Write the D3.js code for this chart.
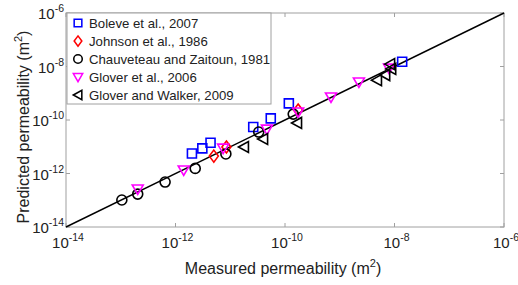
<!DOCTYPE html>
<html>
<head>
<meta charset="utf-8">
<style>
  body { margin: 0; background: white; }
  svg text { font-family: "Liberation Sans", Arial, sans-serif; fill: #222; }
</style>
<script src="https://cdn.jsdelivr.net/npm/d3@7"></script>
</head>
<body>
<div id="chart"></div>
<script>
  // log10 values: [measured, predicted]
  var boleve = [[-11.70, -11.25], [-11.51, -11.06], [-11.36, -10.85], [-10.58, -10.26],
                [-10.26, -9.94], [-9.93, -9.38], [-7.86, -7.82]];
  var johnson = [[-11.30, -11.35], [-11.07, -11.01], [-9.76, -9.63]];
  var chauveteau = [[-12.98, -12.99], [-12.69, -12.77], [-12.19, -12.32], [-11.64, -11.81],
                    [-11.08, -11.27], [-10.48, -10.45], [-9.85, -9.78]];
  var glover2006 = [[-12.69, -12.58], [-11.85, -11.87], [-11.13, -11.05], [-10.33, -10.34],
                    [-9.76, -9.70], [-9.16, -9.14], [-8.65, -8.58], [-8.10, -8.06]];
  var gloverWalker = [[-10.75, -11.01], [-10.40, -10.71], [-9.78, -10.11], [-8.32, -8.51],
                      [-8.17, -8.32], [-8.06, -8.09], [-8.08, -7.91]];
  var tickExps = [-14, -12, -10, -8, -6];
  var seriesNames = ['Boleve et al., 2007', 'Johnson et al., 1986', 'Chauveteau and Zaitoun, 1981',
                     'Glover et al., 2006', 'Glover and Walker, 2009'];

  var W = 518, H = 285;
  var pL = 66, pR = 504, pT = 13, pB = 227;

  var svg = d3.select('#chart').append('svg')
      .attr('width', W).attr('height', H);

  var x = d3.scaleLog().domain([1e-14, 1e-6]).range([pL, pR]);
  var y = d3.scaleLog().domain([1e-14, 1e-6]).range([pB, pT]);

  // frame
  svg.append('rect')
      .attr('x', pL).attr('y', pT)
      .attr('width', pR - pL).attr('height', pB - pT)
      .style('fill', 'white').style('stroke', '#a0a0a0').style('stroke-width', 1);

  var tickVals = tickExps.map(function(e) { return Math.pow(10, e); });

  // ticks inside the box
  var g = svg.append('g').style('stroke', '#a0a0a0').style('stroke-width', 1);
  tickVals.forEach(function(v) {
    g.append('line').attr('x1', x(v)).attr('x2', x(v)).attr('y1', pB).attr('y2', pB - 4);
    g.append('line').attr('x1', x(v)).attr('x2', x(v)).attr('y1', pT).attr('y2', pT + 4);
    g.append('line').attr('y1', y(v)).attr('y2', y(v)).attr('x1', pL).attr('x2', pL + 4);
    g.append('line').attr('y1', y(v)).attr('y2', y(v)).attr('x1', pR).attr('x2', pR - 4);
  });

  // tick labels
  function powLabel(sel, e) {
    sel.append('tspan').text('10');
    sel.append('tspan').text(String(e))
        .attr('dy', -7).style('font-size', '10.5px');
  }
  tickExps.forEach(function(e) {
    var t = svg.append('text')
        .attr('x', x(Math.pow(10, e)) + 2)
        .attr('y', pB + 21)
        .attr('text-anchor', 'middle')
        .style('font-size', '15px');
    powLabel(t, e);
    var t2 = svg.append('text')
        .attr('x', pL - 2)
        .attr('y', y(Math.pow(10, e)) + 6)
        .attr('text-anchor', 'end')
        .style('font-size', '15px');
    powLabel(t2, e);
  });

  // axis titles
  var xt = svg.append('text')
      .attr('x', (pL + pR) / 2 - 2).attr('y', 274)
      .attr('text-anchor', 'middle').style('font-size', '16px');
  xt.append('tspan').text('Measured permeability (m');
  xt.append('tspan').text('2').attr('dy', -7).style('font-size', '11px');
  xt.append('tspan').text(')').attr('dy', 7);

  var yt = svg.append('text')
      .attr('transform', 'translate(29,127) rotate(-90)')
      .attr('text-anchor', 'middle').style('font-size', '16px');
  yt.append('tspan').text('Predicted permeability (m');
  yt.append('tspan').text('2').attr('dy', -7).style('font-size', '11px');
  yt.append('tspan').text(')').attr('dy', 7);

  // 1:1 line
  svg.append('line')
      .attr('x1', x(1e-14)).attr('y1', y(1e-14))
      .attr('x2', x(1e-6)).attr('y2', y(1e-6))
      .style('stroke', 'black').style('stroke-width', 1.4);

  // marker paths centred on 0,0
  var shapes = {
    square: 'M-4.5,-4.5H4.5V4.5H-4.5Z',
    diamond: 'M0,-6L4.5,0L0,6L-4.5,0Z',
    circle: 'M5,0A5,5 0 1,1 -5,0A5,5 0 1,1 5,0Z',
    down: 'M-5.5,-4L5.5,-4L0,5.5Z',
    leftTri: 'M-5.5,0L4.5,-5.5L4.5,5.5Z'
  };
  var series = [
    { data: boleve, color: '#0000ff', shape: shapes.square },
    { data: johnson, color: '#ff0000', shape: shapes.diamond },
    { data: chauveteau, color: '#000000', shape: shapes.circle },
    { data: glover2006, color: '#ff00ff', shape: shapes.down },
    { data: gloverWalker, color: '#000000', shape: shapes.leftTri }
  ];

  series.forEach(function(s) {
    svg.append('g').selectAll('path')
        .data(s.data)
        .enter().append('path')
        .attr('d', s.shape)
        .attr('transform', function(d) {
          return 'translate(' + x(Math.pow(10, d[0])) + ',' + y(Math.pow(10, d[1])) + ')';
        })
        .style('fill', 'none')
        .style('stroke', s.color)
        .style('stroke-width', 1.6);
  });

  // legend
  var lg = svg.append('g');
  lg.append('rect')
      .attr('x', pL + 1).attr('y', pT).attr('width', 204).attr('height', 91)
      .style('fill', 'white').style('stroke', '#a0a0a0').style('stroke-width', 1);
  series.forEach(function(s, i) {
    var ry = 23 + i * 18;
    lg.append('path')
        .attr('d', s.shape)
        .attr('transform', 'translate(78,' + ry + ') scale(0.85)')
        .style('fill', 'none').style('stroke', s.color).style('stroke-width', 1.8);
    lg.append('text')
        .attr('x', 89).attr('y', ry + 5)
        .style('font-size', '13.2px')
        .text(seriesNames[i]);
  });
</script>
</body>
</html>
